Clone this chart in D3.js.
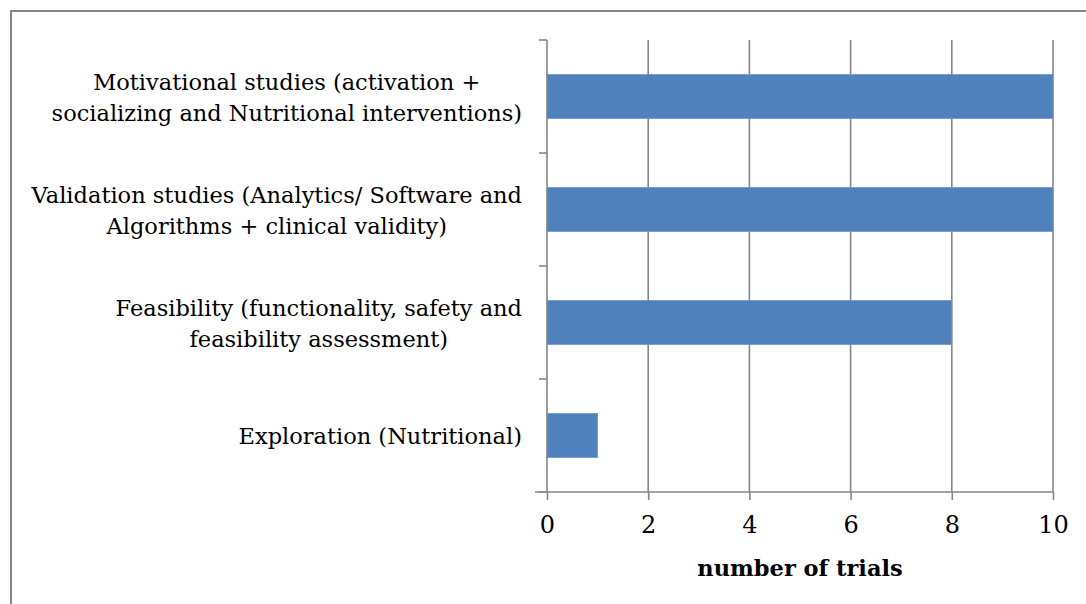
<!DOCTYPE html>
<meta charset="utf-8">
<style>
body { margin: 0; background: #fff; }
text { font-family: "DejaVu Serif", serif; font-size: 22.5px; fill: #000; }
.grid line { stroke: #868686; stroke-width: 1.6px; }
.axis line, .axis path { stroke: #868686; stroke-width: 1.6px; }
</style>
<svg width="1086" height="604"></svg>
<script src="https://cdn.jsdelivr.net/npm/d3@7"></script>
<script>

var categories = [
  ["Motivational studies (activation +", "socializing and Nutritional interventions)"],
  ["Validation studies (Analytics/ Software and", "Algorithms + clinical validity)"],
  ["Feasibility (functionality, safety and", "feasibility assessment)"],
  ["Exploration (Nutritional)"]
];
var trials = [10, 10, 8, 1];
var xTicks = [0, 2, 4, 6, 8, 10];
var xTitle = "number of trials";

var svg = d3.select("svg");

// outer chart border (runs off right and bottom edge)
svg.append("rect")
    .attr("x", 11).attr("y", 11)
    .attr("width", 1100).attr("height", 620)
    .attr("fill", "none")
    .attr("stroke", "#878787")
    .attr("stroke-width", 2);

var x = d3.scaleLinear().domain([0, 10]).range([547, 1053]);

var y = d3.scaleBand()
    .domain(d3.range(categories.length))
    .range([40, 492])
    .paddingInner(0.61)
    .paddingOuter(0.305);

var step = y.step();

// vertical gridlines
svg.append("g").attr("class", "grid")
  .selectAll("line")
  .data(xTicks.slice(1))
  .enter().append("line")
    .attr("x1", function(d) { return x(d); })
    .attr("x2", function(d) { return x(d); })
    .attr("y1", 40)
    .attr("y2", 492);

// bars
svg.append("g")
  .selectAll("rect")
  .data(trials)
  .enter().append("rect")
    .attr("x", x(0))
    .attr("y", function(d, i) { return y(i); })
    .attr("width", function(d) { return x(d) - x(0); })
    .attr("height", y.bandwidth())
    .attr("fill", "#4f81bd")
    .attr("stroke", "#6f98cb")
    .attr("stroke-width", 0.8);

// left axis: line plus ticks at category boundaries
var yAxis = svg.append("g").attr("class", "axis");
yAxis.append("line")
    .attr("x1", x(0)).attr("x2", x(0))
    .attr("y1", 40).attr("y2", 492);
yAxis.selectAll("line.tick")
  .data(d3.range(categories.length + 1))
  .enter().append("line")
    .attr("class", "tick")
    .attr("x1", x(0) - 8).attr("x2", x(0))
    .attr("y1", function(d) { return 40 + d * step; })
    .attr("y2", function(d) { return 40 + d * step; });

// bottom axis
var xAxis = svg.append("g")
    .attr("class", "axis")
    .attr("transform", "translate(0,492)")
    .call(d3.axisBottom(x).tickValues(xTicks).tickSize(8).tickPadding(10).tickSizeOuter(0));
xAxis.select(".domain").attr("d", "M" + (x(0) - 12) + ",0H" + x(10));
xAxis.selectAll(".tick text")
    .style("font-family", "DejaVu Serif, serif")
    .style("font-size", "24px")
    .attr("fill", "#000")
    .attr("dy", "0.95em");

svg.append("text")
    .attr("x", (x(0) + x(10)) / 2)
    .attr("y", 576)
    .attr("text-anchor", "middle")
    .style("font-weight", "bold")
    .text(xTitle);

// category labels: block right-aligned, lines centered inside block
var lineH = 31;
categories.forEach(function(lines, i) {
  var g = svg.append("g");
  var cy = y(i) + y.bandwidth() / 2;
  var texts = lines.map(function(l, j) {
    return g.append("text")
      .attr("y", cy - (lines.length - 1) * lineH / 2 + j * lineH + 8.5)
      .text(l);
  });
  var widths = texts.map(function(t) { return t.node().getComputedTextLength(); });
  var maxW = d3.max(widths);
  var centerX = 522 - maxW / 2;
  texts.forEach(function(t) {
    t.attr("x", centerX).attr("text-anchor", "middle");
  });
});

</script>
